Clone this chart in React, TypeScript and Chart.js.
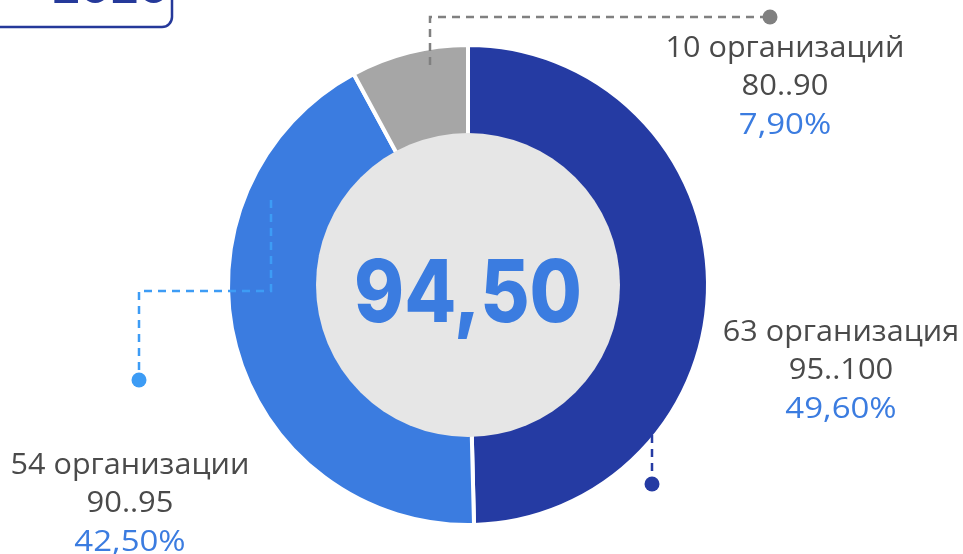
import React, { useEffect, useRef } from "react";
import { Chart, registerables } from "chart.js";

Chart.register(...registerables);

const categories = ["95..100", "90..95", "80..90"];
const orgLabels = ["63 организация", "54 организации", "10 организаций"];
const shares = [49.6, 42.5, 7.9];
const shareLabels = ["49,60%", "42,50%", "7,90%"];
const centerValue = "94,50";
const yearLabel = "2020";

const segColors = ["#253ba3", "#3b7ce0", "#a6a6a6"];
const leaderColors = ["#253ba3", "#3d9cf5", "#808080"];

const overlayPlugin = {
  id: "overlay",
  afterDatasetsDraw(chart: any) {
    const ctx = chart.ctx;
    const meta = chart.getDatasetMeta(0);
    const arc = meta.data[0];
    const cx = arc.x;
    const cy = arc.y;
    ctx.save();
    ctx.beginPath();
    ctx.arc(cx, cy, 152, 0, Math.PI * 2);
    ctx.fillStyle = "#e6e6e6";
    ctx.fill();
    ctx.font = '800 86px "Inter"';
    ctx.fillStyle = "#3b7ce0";
    ctx.textBaseline = "alphabetic";
    ctx.textAlign = "center";
    const w = ctx.measureText(centerValue).width;
    const target = 228;
    ctx.translate(cx, 0);
    ctx.scale(target / w, 1);
    ctx.fillText(centerValue, 0, 322);
    ctx.restore();
  },
  afterDraw(chart: any) {
    const ctx = chart.ctx;
    const meta = chart.getDatasetMeta(0);
    const cx = meta.data[0].x;
    const cy = meta.data[0].y;
    ctx.save();
    ctx.setLineDash([8, 6]);
    ctx.lineWidth = 2.5;
    const poly = (pts: number[][], color: string) => {
      ctx.strokeStyle = color;
      ctx.beginPath();
      pts.forEach((p, i) => (i ? ctx.lineTo(p[0], p[1]) : ctx.moveTo(p[0], p[1])));
      ctx.stroke();
      const last = pts[pts.length - 1];
      ctx.save();
      ctx.setLineDash([]);
      ctx.fillStyle = color;
      ctx.beginPath();
      ctx.arc(last[0], last[1], 7.5, 0, Math.PI * 2);
      ctx.fill();
      ctx.restore();
    };
    poly([[cx + 184, cy + 150], [cx + 184, cy + 199]], leaderColors[0]);
    poly([[cx - 197, cy - 85], [cx - 197, cy + 6], [cx - 329, cy + 6], [cx - 329, cy + 95]], leaderColors[1]);
    poly([[cx - 38, cy - 220], [cx - 38, cy - 268], [cx + 302, cy - 268]], leaderColors[2]);
    ctx.setLineDash([]);

    const blocks = [
      { x: 841, y: 341, i: 0 },
      { x: 130, y: 474, i: 1 },
      { x: 785, y: 57, i: 2 },
    ];
    const drawScaled = (text: string, x: number, y: number, sx: number) => {
      ctx.save();
      ctx.translate(x, y);
      ctx.scale(sx, 1);
      ctx.fillText(text, 0, 0);
      ctx.restore();
    };
    ctx.textAlign = "center";
    ctx.textBaseline = "alphabetic";
    blocks.forEach((b) => {
      ctx.font = '400 30px "Open Sans"';
      ctx.fillStyle = "#4a4a4a";
      drawScaled(orgLabels[b.i], b.x, b.y, 1.02);
      drawScaled(categories[b.i], b.x, b.y + 38, 1.03);
      ctx.fillStyle = "#3b7ce0";
      drawScaled(shareLabels[b.i], b.x, b.y + 77, 1.1);
    });

    ctx.strokeStyle = "#25399a";
    ctx.lineWidth = 2.5;
    ctx.beginPath();
    const r = 10;
    ctx.moveTo(-10, 27);
    ctx.lineTo(172 - r, 27);
    ctx.arcTo(172, 27, 172, 27 - r, r);
    ctx.lineTo(172, -10);
    ctx.stroke();
    ctx.font = '800 44px "Inter"';
    ctx.fillStyle = "#25399a";
    ctx.textAlign = "left";
    ctx.fillText(yearLabel, 52, 3);
    ctx.restore();
  },
};

export default function App() {
  const ref = useRef<HTMLCanvasElement>(null);
  useEffect(() => {
    if (!ref.current) return;
    const chart = new Chart(ref.current, {
      type: "doughnut",
      data: {
        labels: categories,
        datasets: [
          {
            data: shares,
            backgroundColor: segColors,
            borderColor: "#ffffff",
            borderWidth: 4,
            hoverOffset: 0,
          },
        ],
      },
      options: {
        responsive: false,
        animation: false,
        radius: 240,
        cutout: 140,
        layout: { padding: { left: 0, right: 27, top: 16, bottom: 0 } },
        plugins: { legend: { display: false }, tooltip: { enabled: false } },
        events: [],
      } as any,
      plugins: [overlayPlugin],
    });
    return () => chart.destroy();
  }, []);
  return (
    <div style={{ position: "absolute", left: 0, top: 0, width: 963, height: 554, background: "#fff" }}>
      <canvas ref={ref} width={963} height={554} />
    </div>
  );
}
